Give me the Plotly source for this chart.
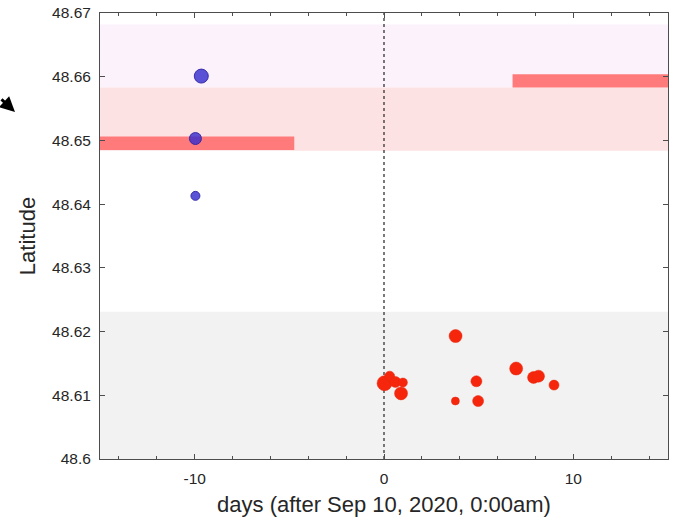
import plotly.graph_objects as go

# Data
blue_days = [-9.65, -9.96, -9.96]
blue_lat = [48.6601, 48.6503, 48.6413]
blue_size = [14, 12, 9]

red_days = [0.03, 0.3, 0.6, 1.0, 0.9, 3.78, 6.98, 7.9, 8.16, 8.98, 4.88, 3.77, 4.97]
red_lat = [48.6119, 48.6130, 48.6121, 48.6120, 48.6103, 48.6193, 48.6142, 48.6128, 48.6130, 48.6116, 48.6122, 48.6091, 48.6091]
red_size = [15, 10, 11, 9, 13, 13, 13, 12, 12, 10, 11, 8, 11]

# bands (latitude ranges)
purple_band = [48.6583, 48.6682]
pink_band = [48.6484, 48.6583]
grey_band = [48.6, 48.6231]
left_bar = {"x": [-15, -4.74], "y": [48.6485, 48.6506]}
right_bar = {"x": [6.79, 15], "y": [48.6583, 48.6604]}

x_ticks = [-10, 0, 10]
x_ticktext = ["-10", "0", "10"]
y_ticks = [48.6, 48.61, 48.62, 48.63, 48.64, 48.65, 48.66, 48.67]
y_ticktext = ["48.6", "48.61", "48.62", "48.63", "48.64", "48.65", "48.66", "48.67"]

FONT = "Liberation Sans, Arial, sans-serif"

fig = go.Figure()

shapes = [
    dict(type="rect", xref="x", yref="y", x0=-15, x1=15, y0=purple_band[0], y1=purple_band[1],
         fillcolor="#FCF2FC", line_width=0, layer="below"),
    dict(type="rect", xref="x", yref="y", x0=-15, x1=15, y0=pink_band[0], y1=pink_band[1],
         fillcolor="#FDE2E3", line_width=0, layer="below"),
    dict(type="rect", xref="x", yref="y", x0=-15, x1=15, y0=grey_band[0], y1=grey_band[1],
         fillcolor="#F2F2F2", line_width=0, layer="below"),
    dict(type="rect", xref="x", yref="y", x0=left_bar["x"][0], x1=left_bar["x"][1],
         y0=left_bar["y"][0], y1=left_bar["y"][1], fillcolor="#FF7B7B", line_width=0, layer="below"),
    dict(type="rect", xref="x", yref="y", x0=right_bar["x"][0], x1=right_bar["x"][1],
         y0=right_bar["y"][0], y1=right_bar["y"][1], fillcolor="#FF7B7B", line_width=0, layer="below"),
    dict(type="line", xref="x", yref="y", x0=0, x1=0, y0=48.6, y1=48.67,
         line=dict(color="#333333", width=1.3, dash="dot"), layer="below"),
]

fig.add_trace(go.Scatter(
    x=blue_days, y=blue_lat, mode="markers",
    marker=dict(size=blue_size, color="rgba(55,45,205,0.82)", opacity=1,
                line=dict(color="rgba(45,35,160,0.9)", width=1)),
    showlegend=False, hoverinfo="skip"))

fig.add_trace(go.Scatter(
    x=red_days, y=red_lat, mode="markers",
    marker=dict(size=red_size, color="#F5260C", opacity=1,
                line=dict(color="#E8260E", width=0.5)),
    showlegend=False, hoverinfo="skip"))

axis_common = dict(
    showgrid=False, zeroline=False, showline=True, linecolor="#4D4D4D", linewidth=1,
    mirror="ticks", ticks="inside", ticklen=5, tickcolor="#4D4D4D", automargin=False,
    ticklabeloverflow="allow",
    tickfont=dict(family=FONT, size=15.5, color="#262626"),
)

fig.update_xaxes(range=[-15, 15], tickmode="array", tickvals=x_ticks, ticktext=x_ticktext,
                 minor=dict(dtick=2, tick0=0, ticks="inside", ticklen=3, tickcolor="#4D4D4D"),
                 ticklabelstandoff=5,
                 title=dict(text="days (after Sep 10, 2020, 0:00am)",
                            font=dict(family=FONT, size=22, color="#262626"),
                            standoff=11),
                 **axis_common)
fig.update_yaxes(range=[48.6, 48.670001], tickmode="array", tickvals=y_ticks, ticktext=y_ticktext,
                 ticklabelstandoff=5,
                 title=dict(text="Latitude",
                            font=dict(family=FONT, size=22, color="#262626"),
                            standoff=10),
                 **axis_common)

fig.add_annotation(xref="paper", yref="paper", x=(15 - 100) / 568, y=(459 - 112) / 446,
                   ax=-18, ay=-14, showarrow=True, arrowhead=2, arrowsize=1.0, arrowwidth=3,
                   arrowcolor="black", text="")

fig.update_layout(
    width=677, height=524,
    margin=dict(l=100, r=9, t=13, b=65),
    plot_bgcolor="white", paper_bgcolor="white",
    shapes=shapes,
)

fig.write_html("out.html", config={"displayModeBar": False},
               post_script="document.body.style.margin='0';")
